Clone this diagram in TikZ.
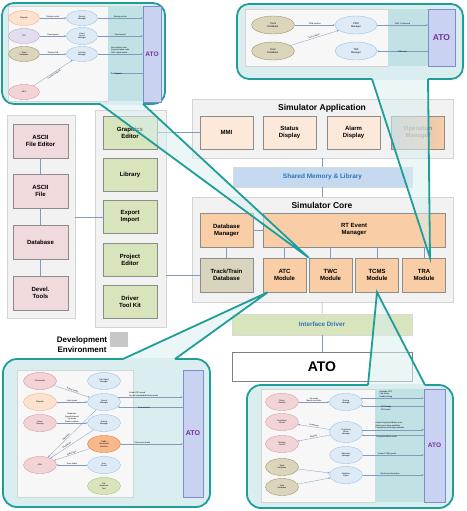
\documentclass[tikz,border=0pt]{standalone}
\usepackage{fontspec}
\setmainfont{Liberation Sans}
\usetikzlibrary{calc,shapes.geometric,arrows.meta}

\definecolor{tealline}{RGB}{31,158,153}
\definecolor{callfill}{RGB}{218,238,240}
\definecolor{stripfill}{RGB}{192,226,229}
\definecolor{panelfill}{RGB}{242,242,242}
\definecolor{panelline}{RGB}{212,212,212}
\definecolor{pinkbox}{RGB}{240,218,219}
\definecolor{greenbox}{RGB}{216,228,188}
\definecolor{peachbox}{RGB}{253,233,217}
\definecolor{orangebox}{RGB}{249,205,166}
\definecolor{olivebox}{RGB}{216,212,190}
\definecolor{bluebox}{RGB}{197,217,241}
\definecolor{bluetext}{RGB}{46,117,182}
\definecolor{wirecol}{RGB}{127,155,192}
\definecolor{atofill}{RGB}{201,210,240}
\definecolor{atoline}{RGB}{127,140,207}
\definecolor{atotext}{RGB}{112,48,160}
\definecolor{ovpeachfill}{RGB}{253,227,207}
\definecolor{ovpeachline}{RGB}{244,177,131}
\definecolor{ovlavfill}{RGB}{228,221,238}
\definecolor{ovlavline}{RGB}{180,167,214}
\definecolor{ovolivefill}{RGB}{218,213,187}
\definecolor{ovoliveline}{RGB}{158,150,112}
\definecolor{ovpinkfill}{RGB}{242,212,215}
\definecolor{ovpinkline}{RGB}{217,154,160}
\definecolor{ovbluefill}{RGB}{222,235,247}
\definecolor{ovblueline}{RGB}{157,195,230}
\definecolor{ovorangefill}{RGB}{248,184,139}
\definecolor{ovorangeline}{RGB}{224,128,64}
\definecolor{ovgreenfill}{RGB}{216,228,188}
\definecolor{ovgreenline}{RGB}{169,196,127}

\newcommand{\callfont}{\fontsize{2}{2.4}\selectfont}
\newcommand{\callfontb}{\fontsize{2.5}{3}\selectfont}

\tikzset{
  box/.style={draw=black!45, line width=0.6pt, align=center, inner sep=1pt,
    font=\bfseries\fontsize{6}{7}\selectfont},
  devbox/.style={box, fill=pinkbox, minimum width=55pt, minimum height=34pt},
  toolbox/.style={box, fill=greenbox, minimum width=54pt, minimum height=33pt},
  appbox/.style={box, fill=peachbox, minimum width=53pt, minimum height=33pt},
  corebox/.style={box, fill=orangebox, minimum height=34pt},
  panel/.style={draw=panelline, fill=panelfill, line width=0.6pt},
  paneltitle/.style={font=\bfseries\fontsize{8.5}{9}\selectfont},
  link/.style={draw=wirecol, line width=0.6pt},
  bubble/.style={draw=tealline, fill=callfill, line width=1.8pt, rounded corners=12pt},
  tailfill/.style={fill=callfill, fill opacity=0.55},
  tailline/.style={draw=tealline, line width=1.8pt},
  innerpanel/.style={draw=panelline, fill=black!3, line width=0.4pt},
  atobar/.style={draw=atoline, fill=atofill, line width=0.5pt, text=atotext, inner sep=0pt,
    font=\bfseries\fontsize{6.5}{7}\selectfont},
  oval/.style={ellipse, line width=0.4pt, minimum width=31pt, minimum height=15pt,
    inner sep=0pt, align=center, font=\callfont},
  ovpeach/.style={oval, draw=ovpeachline, fill=ovpeachfill},
  ovlav/.style={oval, draw=ovlavline, fill=ovlavfill},
  ovolive/.style={oval, draw=ovoliveline, fill=ovolivefill},
  ovpink/.style={oval, draw=ovpinkline, fill=ovpinkfill},
  ovblue/.style={oval, draw=ovblueline, fill=ovbluefill},
  ovorange/.style={oval, draw=ovorangeline, fill=ovorangefill},
  ovgreen/.style={oval, draw=ovgreenline, fill=ovgreenfill},
  flow/.style={draw=wirecol, line width=0.3pt, -{Stealth[length=2pt,width=1.6pt]}},
  lbl/.style={font=\callfont, align=center, inner sep=0.4pt},
  lbll/.style={font=\callfont, align=left, inner sep=0.4pt}
}

\begin{document}
\begin{tikzpicture}[x=1pt,y=-1pt]
\useasboundingbox (0,0) rectangle (466,511);

% development environment
\node (devpanel) at (41,216.5) [panel, minimum width=68pt, minimum height=203pt] {};
\node (asciied) at (40.5,141) [devbox] {ASCII\\File Editor};
\node (asciifile) at (40.5,191) [devbox] {ASCII\\File};
\node (database) at (40.5,242) [devbox] {Database};
\node (devtools) at (40.5,293) [devbox] {Devel.\\Tools};
\draw[link] (asciied) -- (asciifile);
\draw[link] (asciifile) -- (database);
\draw[link] (database) -- (devtools);

\node (toolpanel) at (130.5,218.5) [panel, minimum width=71pt, minimum height=217pt] {};
\node (graphics) at (130,132.5) [toolbox] {Graphics\\Editor};
\node (library) at (130,175) [toolbox] {Library};
\node (export) at (130,217) [toolbox] {Export\\Import};
\node (project) at (130,260) [toolbox] {Project\\Editor};
\node (driverkit) at (130,301.5) [toolbox] {Driver\\Tool Kit};

\node (devlabel) at (82,344.5) [align=center, font=\bfseries\fontsize{8}{10}\selectfont] {Development\\Environment};
\node (devsquare) at (119,339.5) [fill=black!22, minimum width=18pt, minimum height=15pt, inner sep=0pt] {};

% simulator application
\node (apppanel) at (322.5,128.5) [panel, minimum width=261pt, minimum height=59pt] {};
\node (apptitle) at (322,108) [paneltitle] {Simulator Application};
\node (mmi) at (226.5,132.5) [appbox] {MMI};
\node (status) at (289.5,132.5) [appbox] {Status\\Display};
\node (alarm) at (353.5,132.5) [appbox] {Alarm\\Display};
\node (operation) at (418,132.5) [appbox, left color=black!22, right color=orangebox, text=black!45] {Operation\\Manager};

\node (shmem) at (322.5,177) [box, draw=black!15, fill=bluebox, text=bluetext, minimum width=179pt, minimum height=20pt, font=\bfseries\fontsize{6.5}{7}\selectfont] {Shared Memory \& Library};

% simulator core
\node (corepanel) at (322.5,249.5) [panel, minimum width=261pt, minimum height=105pt] {};
\node (coretitle) at (322,205) [paneltitle] {Simulator Core};
\node (dbman) at (226.5,230) [corebox, minimum width=53pt] {Database\\Manager};
\node (rtevent) at (354,230) [corebox, minimum width=182pt] {RT Event\\Manager};
\node (trdb) at (226.5,275) [box, fill=olivebox, minimum width=53pt, minimum height=34pt] {Track/Train\\Database};
\node (atc) at (284.5,275) [corebox, minimum width=43pt] {ATC\\Module};
\node (twc) at (330.5,275) [corebox, minimum width=43pt] {TWC\\Module};
\node (tcms) at (377,275) [corebox, minimum width=43pt] {TCMS\\Module};
\node (tra) at (424,275) [corebox, minimum width=43pt] {TRA\\Module};
\draw[link] (dbman) -- (rtevent);
\draw[link] (dbman) -- (trdb);
\foreach \m in {atc,twc,tcms,tra}
  \draw[link] (\m.north) -- (\m.north |- rtevent.south);

\node (ifdrv) at (322,324.5) [box, draw=black!15, fill=greenbox, text=bluetext, minimum width=180pt, minimum height=21pt, font=\bfseries\fontsize{6.3}{7}\selectfont] {Interface Driver};
\node (ato) at (322,366.5) [draw=black!50, line width=0.8pt, fill=white, minimum width=180pt, minimum height=29pt, font=\bfseries\fontsize{14}{15}\selectfont] {ATO};

\draw[link] (graphics) -- (mmi);
\draw[link] (devpanel.east |- export) -- (export);
\draw[link] (toolpanel.east |- trdb) -- (trdb);
\draw[link] (apppanel) -- (shmem);
\draw[link] (shmem) -- (corepanel);
\draw[link] (corepanel) -- (ifdrv);
\draw[link] (ifdrv) -- (ato);

% callout: TWC module (top left)
\coordinate (tlbase1) at (100,104);
\coordinate (tlbase2) at (143,104);
\coordinate (tlapex) at (twc.north west);
\fill[tailfill] (tlapex) -- (tlbase1) -- (tlbase2) -- cycle;
\draw[bubble] (2,3) rectangle (165,104);
\draw[innerpanel] (8,6) rectangle (108,101);
\fill[stripfill] (108,6) rectangle (143,101);
\node (atotl) at (152,54) [atobar, minimum width=18pt, minimum height=96pt] {ATO};
\draw[callfill, line width=2.4pt] (tlbase1) -- (tlbase2);
\draw[tailline] (tlbase1) -- (tlapex) -- (tlbase2);

\node (wayside) at (24,18) [ovpeach] {Wayside};
\node (tcc) at (24,36) [ovlav] {TCC};
\node (trackdbtl) at (24,54) [ovolive] {Track\\Database};
\node (mpu) at (24,92) [ovpink] {MPU};
\node (drivingtl) at (82,18) [ovblue] {Driving\\Manager};
\node (fixedspd) at (82,36) [ovblue, minimum height=17pt] {Fixed\\Speed\\Manager};
\node (location) at (82,54) [ovblue] {Location\\Manager};
\draw[flow] (wayside) -- node[lbl, above] {Driving control} (drivingtl);
\draw[flow] (tcc) -- node[lbl, above] {Fixed speed} (fixedspd);
\draw[flow] (trackdbtl) -- node[lbl, above] {Position DB} (location);
\draw[flow] (mpu) -- node[lbl, sloped, below=0.6pt] {Location request} (location);
\draw[flow] (drivingtl) -- node[lbl, above] {Driving control} (drivingtl -| atotl.west);
\draw[flow] (fixedspd) -- node[lbl, above] {Fixed speed} (fixedspd -| atotl.west);
\draw[flow] (location) -- node[lbll, above] {Next station code\\Passed station code\\TWC uplink status} (location -| atotl.west);
\coordinate (reqend) at (110,73);
\draw[flow] (atotl.west |- reqend) -- node[lbl, below, pos=0.75] {Request} (reqend);

% callout: TRA module (top right)
\coordinate (trbase1) at (372,79);
\coordinate (trbase2) at (428,79);
\coordinate (trapex) at ($(tra.north)+(6,0)$);
\fill[tailfill] (trapex) -- (trbase1) -- (trbase2) -- cycle;
\draw[bubble] (237,4) rectangle (463,79);
\draw[innerpanel] (245,9) rectangle (388,66);
\fill[stripfill] (388,9) rectangle (428,66);
\node (atotr) at (441.5,37.5) [atobar, minimum width=27pt, minimum height=57pt, font=\bfseries\fontsize{8.5}{9}\selectfont] {ATO};
\draw[callfill, line width=2.4pt] (trbase1) -- (trbase2);
\draw[tailline] (trbase1) -- (trapex) -- (trbase2);

\node (trackdbtr) at (273,25) [ovolive, minimum width=43pt, minimum height=18pt, font=\callfontb] {Track\\Database};
\node (traindbtr) at (273,51) [ovolive, minimum width=43pt, minimum height=18pt, font=\callfontb] {Train\\Database};
\node (psm) at (356,25) [ovblue, minimum width=42pt, minimum height=18pt, font=\callfontb] {PSM\\Manager};
\node (tram) at (356,51) [ovblue, minimum width=42pt, minimum height=18pt, font=\callfontb] {TRA\\Manager};
\draw[flow] (trackdbtr) -- node[lbl, above] {PSM position} (psm);
\draw[flow] (traindbtr) -- node[lbl, sloped, above] {Train position} (psm);
\draw[flow] (psm) -- node[lbl, above] {PSM Tx detected} (psm -| atotr.west);
\draw[flow] (atotr.west |- tram) -- node[lbl, below] {PSM reset} (tram);

% callout: ATC module (bottom left)
\coordinate (blbase1) at (123,359);
\coordinate (blbase2) at (175,359);
\coordinate (blapex) at ($(atc.south west)+(5,0)$);
\fill[tailfill] (blapex) -- (blbase1) -- (blbase2) -- cycle;
\draw[bubble, rounded corners=14pt] (3,359) rectangle (210,507);
\draw[innerpanel] (17,370) rectangle (133,497);
\node (atobl) at (193,433.5) [atobar, minimum width=20pt, minimum height=127pt, font=\bfseries\fontsize{7}{8}\selectfont] {ATO};
\draw[callfill, line width=2.4pt] (blbase1) -- (blbase2);
\draw[tailline] (blbase1) -- (blapex) -- (blbase2);

\node (tacho) at (40,381) [ovpink, minimum width=33pt, minimum height=17pt] {Tachometer};
\node (waysidebl) at (40,402) [ovpeach, minimum width=33pt, minimum height=17pt] {Wayside};
\node (deskbl) at (40,423) [ovpink, minimum width=33pt, minimum height=17pt] {Driver\\Desktop};
\node (adu) at (40,465) [ovpink, minimum width=33pt, minimum height=17pt] {ADU};
\node (cabsig) at (104,381) [ovblue, minimum width=33pt, minimum height=17pt] {Cab Signal\\Manager};
\node (speedbl) at (104,402) [ovblue, minimum width=33pt, minimum height=17pt] {Speed\\Manager};
\node (drivingbl) at (104,423) [ovblue, minimum width=33pt, minimum height=17pt] {Driving\\Manager};
\node (detector) at (104,444) [ovorange, minimum width=33pt, minimum height=17pt] {Traffic\\Overspeed\\Detector};
\node (door) at (104,465) [ovblue, minimum width=33pt, minimum height=17pt] {Door\\Control};
\node (predep) at (104,486) [ovgreen, minimum width=33pt, minimum height=17pt] {Pre-\\departure\\Test};
\draw[flow] (tacho) -- node[lbl, sloped, above] {Actual speed} (speedbl);
\draw[flow] (waysidebl) -- node[lbl, above] {Limit speed} (speedbl);
\draw[flow] (deskbl) -- node[lbl, above] {Departure\\Speed proceed\\Op mode\\Dwell complete} (drivingbl);
\draw[flow] (speedbl) -- node[lbl, sloped, above, pos=0.6] {Speed info} (adu);
\draw[flow] (drivingbl) -- node[lbl, sloped, above, pos=0.6] {Driving info} (adu);
\draw[flow] (detector) -- node[lbl, sloped, above] {Status info} (adu);
\draw[flow] (door) -- node[lbl, above] {Door status} (adu);
\draw[flow] (speedbl.20) -- node[lbll, above, pos=0.4] {Actual ATC speed\\Speed command/driverate mode} (speedbl.20 -| atobl.west);
\draw[flow] (atobl.west |- speedbl.-20) -- node[lbl, below, pos=0.6] {Train berthed} (speedbl.-20);
\draw[flow] (detector) -- node[lbl, above, pos=0.35] {Full service brake} (detector -| atobl.west);

% callout: TCMS module (bottom right)
\coordinate (brbase1) at (368,385);
\coordinate (brbase2) at (425,385);
\coordinate (brapex) at (tcms.south);
\fill[tailfill] (brapex) -- (brbase1) -- (brbase2) -- cycle;
\draw[bubble, rounded corners=14pt] (247,385) rectangle (453,508);
\draw[innerpanel] (261,389) rectangle (375,502);
\fill[stripfill] (375,389) rectangle (424,502);
\node (atobr) at (434.5,445.5) [atobar, minimum width=21pt, minimum height=113pt] {ATO};
\draw[callfill, line width=2.4pt] (brbase1) -- (brbase2);
\draw[tailline] (brbase1) -- (brapex) -- (brbase2);

\node (deskbr) at (282,402) [ovpink, minimum width=33pt, minimum height=17pt] {Driver\\Desktop};
\node (propc) at (282,422) [ovpink, minimum width=33pt, minimum height=17pt] {Propulsion\\Control};
\node (brakec) at (282,444) [ovpink, minimum width=33pt, minimum height=17pt] {Braking\\Control};
\node (trackdbbr) at (282,467) [ovolive, minimum width=33pt, minimum height=17pt] {Track\\Database};
\node (traindbbr) at (282,487) [ovolive, minimum width=33pt, minimum height=17pt] {Train\\Database};
\node (drivingbr) at (346,402) [ovblue, minimum width=33pt, minimum height=17pt] {Driving\\Manager};
\node (pbm) at (346,432) [ovblue, minimum width=33pt, minimum height=21pt] {Propulsion\\Brake\\Manager};
\node (odo) at (346,455) [ovblue, minimum width=33pt, minimum height=17pt] {Odometer\\Manager};
\node (rts) at (346,475) [ovblue, minimum width=33pt, minimum height=17pt] {Realtime\\Status};
\draw[flow] (deskbr) -- node[lbl, above] {Op mode\\Master controller} (drivingbr);
\draw[flow] (pbm) -- node[lbl, sloped, above] {Propulsion} (propc);
\draw[flow] (pbm) -- node[lbl, sloped, above] {Braking} (brakec);
\draw[flow] (trackdbbr) -- (rts);
\draw[flow] (traindbbr) -- (rts);
\draw[flow] (drivingbr.15) -- node[lbll, above, pos=0.4] {Available ATO\\Cab Active\\Enable driving} (drivingbr.15 -| atobr.west);
\draw[flow] (atobr.west |- drivingbr.-15) -- node[lbll, below, pos=0.6] {ATO Ready\\ATO status} (drivingbr.-15);
\draw[flow] (pbm.8) -- node[lbll, above, pos=0.45] {Actual Propulsion/Brake order\\Brake percentage available\\Propulsion percentage available} (pbm.8 -| atobr.west);
\draw[flow] (atobr.west |- pbm.-12) -- node[lbl, below, pos=0.6] {Propulsion/Brake order} (pbm.-12);
\draw[flow] (odo) -- node[lbl, above, pos=0.4] {Actual TCMS speed} (odo -| atobr.west);
\draw[flow] (rts) -- node[lbl, above, pos=0.45] {Real time information} (rts -| atobr.west);

\end{tikzpicture}
\end{document}
